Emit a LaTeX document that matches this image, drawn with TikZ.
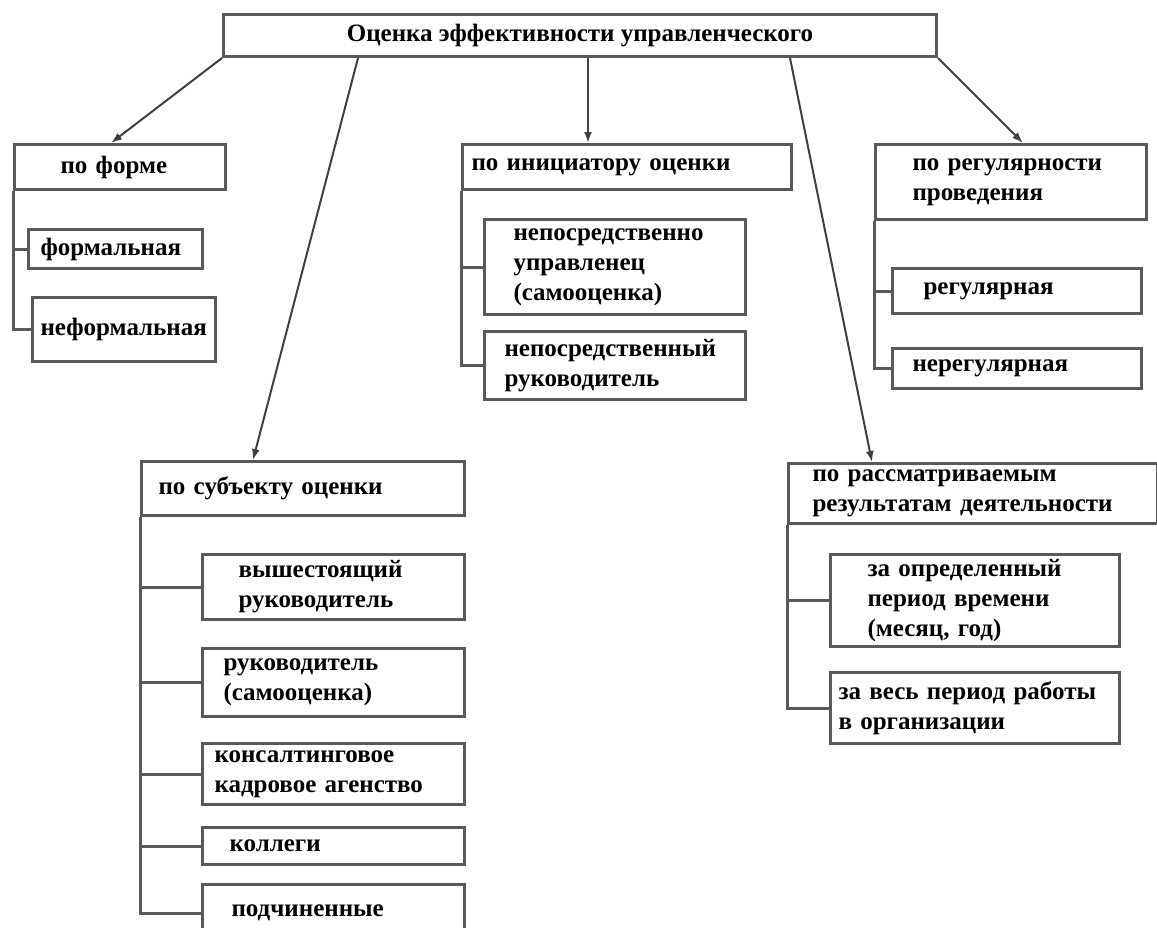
\documentclass[tikz,border=0pt]{standalone}
\usepackage{fontspec}
\setmainfont{Liberation Serif}
\usetikzlibrary{arrows.meta,calc}
\tikzstyle{line} = [draw, black!75, line width=2pt, -{Latex[length=11pt,width=8pt]}]
\tikzstyle{branch} = [draw, black!65, line width=3pt]
\tikzstyle{block} = [draw=black!65, line width=3pt, rectangle, anchor=north west, align=left, inner ysep=1pt, font=\fontsize{25}{30}\selectfont\bfseries]

\begin{document}
\begin{tikzpicture}[x=1pt, y=-1pt]
        \useasboundingbox (0,0) rectangle (1157,927);
        \clip (0,0) rectangle (1157,927);
        \node[block, align=center, minimum width=713pt, minimum height=42pt] (ocenka) at (222,13) {Оценка эффективности управленческого};
        % left column
        \node[block, text width=119pt, inner xsep=46pt, minimum height=45pt] (forma) at (13,143) {по форме};
        \node[block, text width=150pt, inner xsep=12pt, minimum height=39pt] (formal) at (27,228) {формальная};
        \node[block, text width=167pt, inner xsep=8pt, minimum height=64pt] (neformal) at (31,296) {неформальная};
        \node[block, text width=289pt, inner xsep=17pt, minimum height=54pt] (subekt) at (140,460) {по субъекту оценки};
        \node[block, text width=190pt, inner xsep=36pt, minimum height=65pt] (vyshest) at (201,553) {вышестоящий\\руководитель};
        \node[block, text width=220pt, inner xsep=21pt, minimum height=68pt] (rukovod) at (201,647) {руководитель\\(самооценка)};
        \node[block, text width=238pt, inner xsep=12pt, minimum height=61pt] (konsalt) at (201,742) {консалтинговое\\кадровое агенство};
        \node[block, text width=208pt, inner xsep=27pt, minimum height=37pt] (kollegi) at (201,826) {коллеги};
        \node[block, text width=204pt, inner xsep=29pt, minimum height=57pt] (podchin) at (201,883) {подчиненные};
        % middle column
        \node[block, text width=311pt, inner xsep=9pt, minimum height=45pt] (initsiator) at (461,143) {по инициатору оценки};
        \node[block, text width=203pt, inner xsep=29pt, minimum height=95pt] (upravl) at (483,218) {непосредственно\\управленец\\(самооценка)};
        \node[block, text width=221pt, inner xsep=20pt, minimum height=68pt] (neposr) at (483,330) {непосредственный\\руководитель};
        % right column
        \node[block, text width=197pt, inner xsep=37pt, minimum height=75pt] (regul) at (874,143) {по регулярности\\проведения};
        \node[block, text width=187pt, inner xsep=31pt, minimum height=45pt] (regular) at (891,267) {регулярная};
        \node[block, text width=209pt, inner xsep=20pt, minimum height=40pt] (neregular) at (891,347) {нерегулярная};
        \node[block, text width=321pt, inner xsep=24pt, minimum height=60pt] (rezult) at (787,462) {по рассматриваемым\\результатам деятельности};
        \node[block, text width=215pt, inner xsep=37pt, minimum height=92pt] (period) at (829,553) {за определенный\\период времени\\(месяц, год)};
        \node[block, text width=273pt, inner xsep=8pt, minimum height=71pt] (vesperiod) at (829,671) {за весь период работы\\в организации};
        % arrows from the top
        \path[line] (ocenka.south west) -- ($(forma.north west)+(98,0)$);
        \path[line] ($(ocenka.south west)+(136,0)$) -- ($(subekt.north west)+(113,0)$);
        \path[line] ($(ocenka.south west)+(366,0)$) -- ($(initsiator.north west)+(127,0)$);
        \path[line] ($(ocenka.south west)+(568,0)$) -- ($(rezult.north west)+(85,0)$);
        \path[line] (ocenka.south east) -- ($(regul.north west)+(149,0)$);
        % branches
        \draw[branch] (forma.south west) |- (formal.west);
        \draw[branch] (forma.south west) |- (neformal.west);
        \draw[branch] (subekt.south west) |- (vyshest.west);
        \draw[branch] (subekt.south west) |- (rukovod.west);
        \draw[branch] (subekt.south west) |- (konsalt.west);
        \draw[branch] (subekt.south west) |- (kollegi.west);
        \draw[branch] (subekt.south west) |- (podchin.west);
        \draw[branch] (initsiator.south west) |- (upravl.west);
        \draw[branch] (initsiator.south west) |- (neposr.west);
        \draw[branch] (regul.south west) |- (regular.west);
        \draw[branch] (regul.south west) |- (neregular.west);
        \draw[branch] (rezult.south west) |- (period.west);
        \draw[branch] (rezult.south west) |- (vesperiod.west);
    \end{tikzpicture}
\end{document}
